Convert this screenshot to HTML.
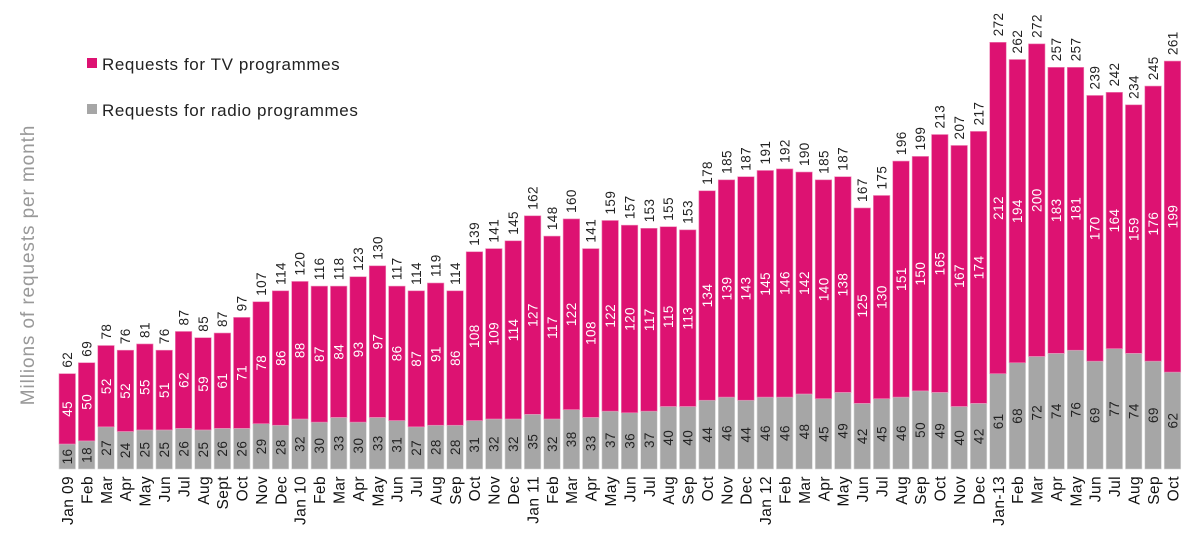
<!DOCTYPE html>
<html><head><meta charset="utf-8">
<style>
body{margin:0;background:#fff;width:1192px;height:555px;overflow:hidden;font-family:"Liberation Sans",sans-serif}
svg{display:block}
</style></head>
<body>
<svg id="chart" width="1192" height="555" xmlns="http://www.w3.org/2000/svg">
<rect x="87" y="58" width="10" height="10" fill="#dd1272"/>
<text x="102" y="70" font-size="17" letter-spacing="0.6" fill="#222">Requests for TV programmes</text>
<rect x="87" y="104" width="10" height="10" fill="#a6a6a6"/>
<text x="102" y="116" font-size="17" letter-spacing="0.6" fill="#222">Requests for radio programmes</text>
<text transform="translate(34,265) rotate(-90)" text-anchor="middle" font-size="19" letter-spacing="0.9" fill="#999">Millions of requests per month</text>
<g id="bars"></g>
</svg>
<script>
const months=["Jan 09","Feb","Mar","Apr","May","Jun","Jul","Aug","Sept","Oct","Nov","Dec","Jan 10","Feb","Mar","Apr","May","Jun","Jul","Aug","Sep","Oct","Nov","Dec","Jan 11","Feb","Mar","Apr","May","Jun","Jul","Aug","Sep","Oct","Nov","Dec","Jan 12","Feb","Mar","Apr","May","Jun","Jul","Aug","Sep","Oct","Nov","Dec","Jan-13","Feb","Mar","Apr","May","Jun","Jul","Aug","Sep","Oct"];
const tvValues=[45,50,52,52,55,51,62,59,61,71,78,86,88,87,84,93,97,86,87,91,86,108,109,114,127,117,122,108,122,120,117,115,113,134,139,143,145,146,142,140,138,125,130,151,150,165,167,174,212,194,200,183,181,170,164,159,176,199];
const radioValues=[16,18,27,24,25,25,26,25,26,26,29,28,32,30,33,30,33,31,27,28,28,31,32,32,35,32,38,33,37,36,37,40,40,44,46,44,46,46,48,45,49,42,45,46,50,49,40,42,61,68,72,74,76,69,77,74,69,62];
const totals=[62,69,78,76,81,76,87,85,87,97,107,114,120,116,118,123,130,117,114,119,114,139,141,145,162,148,160,141,159,157,153,155,153,178,185,187,191,192,190,185,187,167,175,196,199,213,207,217,272,262,272,257,257,239,242,234,245,261];
const NS="http://www.w3.org/2000/svg";
const base=469, k=1.563, x0=59, pitch=19.39, bw=16.5;
const xPos=i=>x0+i*pitch;
const yPos=v=>base-v*k;
const g=document.getElementById('bars');
function mk(tag,attrs){const e=document.createElementNS(NS,tag);for(const a in attrs)e.setAttribute(a,attrs[a]);g.appendChild(e);return e;}
function rtext(x,y,str,anchor,fill,size){const t=mk('text',{transform:`translate(${x},${y}) rotate(-90)`,'text-anchor':anchor,'font-size':size,fill:fill,'letter-spacing':0.4});t.textContent=str;return t;}
months.forEach((m,i)=>{
  const x=xPos(i), r=radioValues[i], tv=tvValues[i], tot=totals[i];
  const yr=yPos(r), yt=yPos(r+tv);
  const rb=mk('rect',{x:x,y:yr,width:bw,height:base-yr,fill:'#a6a6a6',stroke:'#d8d8d8','stroke-width':0.6});
  
  
  const tb=mk('rect',{x:x,y:yt,width:bw,height:yr-yt,fill:'#dd1272',stroke:'#ee88b8','stroke-width':0.6});
  
  
  const cx=x+bw/2+4.8;
  const lr=rtext(cx,(yr+base)/2,String(r),'middle','#222',13.5);
  
  
  const lt=rtext(cx,(yt+yr)/2,String(tv),'middle','#fff',13.5);
  
  
  const ltot=rtext(cx,yt-6,String(tot),'start','#222',13.5);
  
  
  const lm=rtext(cx+1,476,m,'end','#111',15.5);
  
  
});
</script>
</body></html>
